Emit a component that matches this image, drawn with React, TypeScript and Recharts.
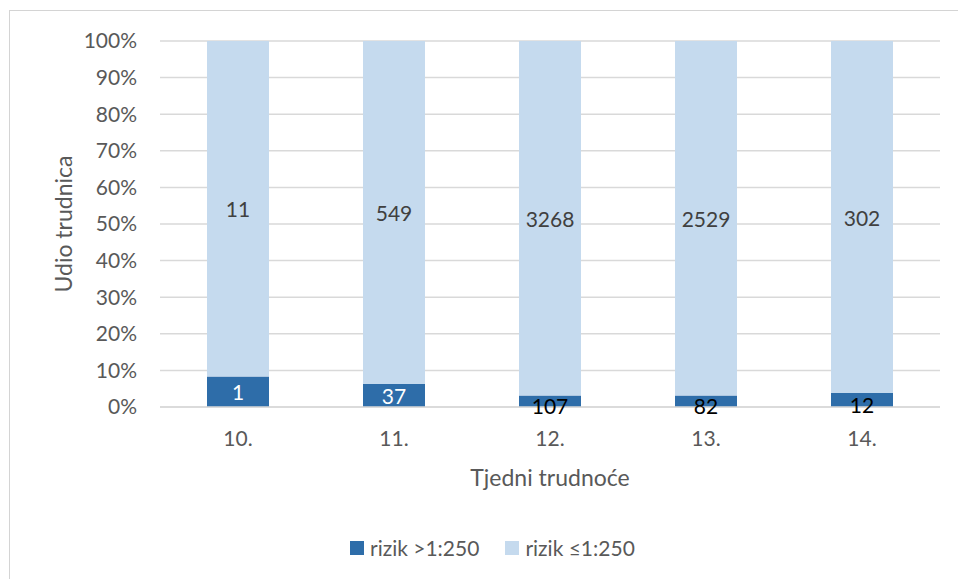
import React from 'react';
import { BarChart, Bar, XAxis, YAxis, CartesianGrid, LabelList } from 'recharts';

const categories = ['10.', '11.', '12.', '13.', '14.'];
const highRisk = [1, 37, 107, 82, 12];
const lowRisk = [11, 549, 3268, 2529, 302];
const seriesNames = ['rizik >1:250', 'rizik ≤1:250'];
const yTicks = [0, 0.1, 0.2, 0.3, 0.4, 0.5, 0.6, 0.7, 0.8, 0.9, 1];
const yTickLabels = ['0%', '10%', '20%', '30%', '40%', '50%', '60%', '70%', '80%', '90%', '100%'];
const xAxisTitle = 'Tjedni trudnoće';
const yAxisTitle = 'Udio trudnica';

const DARK = '#2E6DA9';
const LIGHT = '#C5DAEE';
const TEXT = '#595959';
const FONT = 'Lato, "Open Sans", sans-serif';

const data = categories.map((c, i) => ({ week: c, high: highRisk[i], low: lowRisk[i] }));

const renderHighLabel = (props: any) => {
  const { x, y, width, height, index } = props;
  const fits = Math.abs(height) >= 18;
  return (
    <text
      x={x + width / 2}
      y={y + height / 2 + (fits ? 0 : 4)}
      fill={fits ? '#FFFFFF' : '#000000'}
      textAnchor="middle"
      dominantBaseline="central"
      fontSize={21}
      fontFamily={FONT}
    >
      {highRisk[index]}
    </text>
  );
};

const renderLowLabel = (props: any) => {
  const { x, y, width, height, index } = props;
  return (
    <text
      x={x + width / 2}
      y={y + height / 2}
      fill="#404040"
      textAnchor="middle"
      dominantBaseline="central"
      fontSize={21}
      fontFamily={FONT}
    >
      {lowRisk[index]}
    </text>
  );
};

const YTitle = (props: any) => {
  const vb = props.viewBox || { x: 0, y: 41, width: 160, height: 366 };
  const cx = vb.x + 63;
  const cy = vb.y + vb.height / 2;
  return (
    <text
      x={cx}
      y={cy}
      transform={`rotate(-90, ${cx}, ${cy})`}
      textAnchor="middle"
      dominantBaseline="central"
      fill={TEXT}
      fontSize={23}
      fontFamily={FONT}
    >
      {yAxisTitle}
    </text>
  );
};

const XTitle = (props: any) => {
  const vb = props.viewBox || { x: 160, y: 407, width: 780, height: 60 };
  const cx = vb.x + vb.width / 2;
  const cy = vb.y + 70;
  return (
    <text
      x={cx}
      y={cy}
      textAnchor="middle"
      dominantBaseline="central"
      fill={TEXT}
      fontSize={23}
      fontFamily={FONT}
    >
      {xAxisTitle}
    </text>
  );
};

export default function App() {
  return (
    <div
      style={{
        position: 'fixed',
        left: 0,
        top: 0,
        width: 958,
        height: 579,
        overflow: 'hidden',
        background: '#FFFFFF',
        fontFamily: FONT,
      }}
    >
      <div
        style={{
          position: 'absolute',
          left: 9,
          top: 10,
          width: 980,
          height: 600,
          border: '1px solid #D4D4D4',
        }}
      />
      <div style={{ position: 'absolute', left: 0, top: 0 }}>
        <BarChart
          width={958}
          height={579}
          data={data}
          stackOffset="expand"
          margin={{ top: 41, right: 18, bottom: 112, left: 0 }}
          barSize={62}
        >
          <CartesianGrid vertical={false} stroke="#D9D9D9" strokeWidth={1.5} />
          <XAxis
            dataKey="week"
            tickLine={false}
            tickSize={0}
            tickMargin={24}
            axisLine={{ stroke: '#D9D9D9', strokeWidth: 1.5 }}
            tick={{ fill: TEXT, fontSize: 21, fontFamily: FONT }}
            height={60}
            label={(p: any) => <XTitle {...p} />}
          />
          <YAxis
            width={160}
            domain={[0, 1]}
            ticks={yTicks}
            tickFormatter={(v: number) => yTickLabels[yTicks.indexOf(v)] ?? ''}
            axisLine={false}
            tickLine={false}
            tickSize={0}
            tickMargin={23}
            tick={{ fill: TEXT, fontSize: 21, fontFamily: FONT }}
            label={(p: any) => <YTitle {...p} />}
          />
          <Bar dataKey="high" name={seriesNames[0]} stackId="a" fill={DARK} isAnimationActive={false}>
            <LabelList dataKey="high" content={renderHighLabel} />
          </Bar>
          <Bar dataKey="low" name={seriesNames[1]} stackId="a" fill={LIGHT} isAnimationActive={false}>
            <LabelList dataKey="low" content={renderLowLabel} />
          </Bar>
        </BarChart>
      </div>
      <div
        style={{
          position: 'absolute',
          left: 350,
          top: 536,
          display: 'flex',
          alignItems: 'center',
          color: TEXT,
          fontSize: 21,
          fontFamily: FONT,
          lineHeight: '24px',
        }}
      >
        {seriesNames.map((name, i) => (
          <div key={name} style={{ display: 'flex', alignItems: 'center', marginRight: i === 0 ? 26 : 0 }}>
            <div style={{ width: 14, height: 14, background: i === 0 ? DARK : LIGHT, marginRight: 6 }} />
            <span>{name}</span>
          </div>
        ))}
      </div>
    </div>
  );
}
